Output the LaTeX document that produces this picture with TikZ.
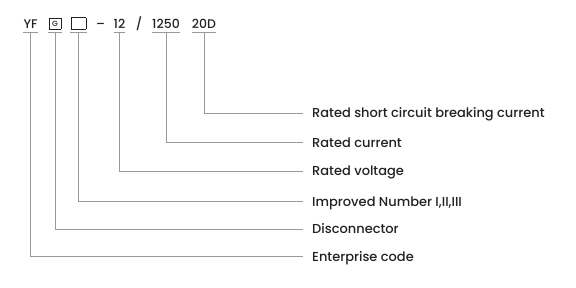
\documentclass[tikz,border=0pt]{standalone}
\usepackage{fontspec}
\usepackage{xcolor}
\setmainfont{Poppins}[UprightFont={* Medium}]
\definecolor{inkgray}{HTML}{222222}
\definecolor{leadgray}{HTML}{9A9A9A}

\begin{document}
\begin{tikzpicture}[x=1pt,y=-1pt,
  codepart/.style={anchor=base,inner xsep=0pt,inner ysep=3.5pt,text depth=0pt,
    text=inkgray,font=\fontsize{12.5}{12.5}\selectfont},
  desc/.style={anchor=west,inner xsep=9pt,inner ysep=0pt,text height=9pt,text depth=0pt,
    text=inkgray,font=\fontsize{13}{13}\selectfont},
  lead/.style={draw=leadgray,line width=0.7pt}]
\useasboundingbox (0,0) rectangle (576,287);
\setlength{\fboxrule}{0.6pt}
\setlength{\fboxsep}{0pt}
% model code
\node[codepart] (yf) at (30.5,28.5) {YF};
\node[codepart] (gbox) at (55,28.5) {\fbox{\makebox[11.5pt]{\rule{0pt}{10pt}\raisebox{2.3pt}{\fontsize{7.5}{7.5}\selectfont G}}}};
\node[codepart] (nbox) at (78.5,28.5) {\fbox{\makebox[14.5pt]{\rule{0pt}{10.5pt}}}};
\node[codepart] (dash) at (100.5,28.5) {--};
\node[codepart] (volt) at (119.5,28.5) {12};
\node[codepart] (slash) at (139,28.5) {/};
\node[codepart] (curr) at (166,28.5) {1250};
\node[codepart] (brk) at (204,28.5) {20D};
% underlines
\foreach \p in {yf,gbox,nbox,volt,curr,brk}
  \draw[lead] (\p.south west) -- (\p.south east);
% descriptions
\node[desc] (lbrk) at (303,113.3) {Rated short circuit breaking current};
\node[desc] (lcurr) at (303,142.7) {Rated current};
\node[desc] (lvolt) at (303,171) {Rated voltage};
\node[desc] (lnbox) at (303,201.7) {Improved Number I,II,III};
\node[desc] (lgbox) at (303,229) {Disconnector};
\node[desc] (lyf) at (303,256.7) {Enterprise code};
% leaders
\foreach \p in {yf,gbox,nbox,volt,curr,brk}
  \draw[lead] (\p.south) |- (l\p.west);
\end{tikzpicture}
\end{document}
